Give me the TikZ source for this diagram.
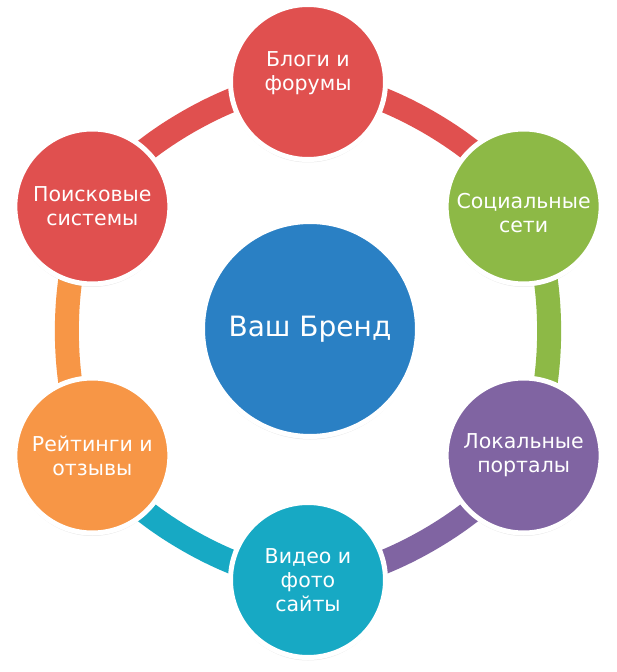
\documentclass[tikz,border=0pt]{standalone}
\usepackage{fontspec}
\setmainfont{DejaVu Sans}
\usetikzlibrary{backgrounds,shadows}
\definecolor{brandblue}{HTML}{2A80C4}
\definecolor{hubred}{HTML}{E0504F}
\definecolor{hubgreen}{HTML}{8DB946}
\definecolor{hubpurple}{HTML}{8064A2}
\definecolor{hubteal}{HTML}{17A9C4}
\definecolor{huborange}{HTML}{F79646}
\begin{document}
\begin{tikzpicture}[x=1pt, y=1pt,
  hubtext/.style={text=white, align=center, inner sep=0pt,
    font=\fontsize{20.5}{24}\selectfont},
  hub/.style={
    hubtext,
    circle, draw=white, line width=5pt,
    fill=#1,
    minimum size=155pt,
    drop shadow={opacity=0.18, shadow xshift=0pt, shadow yshift=-3pt}
  },
  core/.style={hub=brandblue, minimum size=215pt,
    font=\fontsize{28}{34}\selectfont},
  band/.style={draw=#1, line width=24pt}
]
  \useasboundingbox (-308,331) rectangle (309,-341);
  \node[core]            (brand)   at (2,2)      {Ваш Бренд};
  \node[hub=hubred]      (blogs)   at (90:249)   {};
  \node[hub=hubgreen]    (social)  at (30:249)   {};
  \node[hub=hubpurple]   (portals) at (-30:249)  {Локальные\\порталы};
  \node[hub=hubteal]     (video)   at (-90:249)  {Видео и\\фото\\сайты};
  \node[hub=huborange]   (ratings) at (-150:249) {Рейтинги и\\отзывы};
  \node[hub=hubred]      (search)  at (150:249)  {Поисковые\\системы};
  \node[hubtext] (blogs-text)  at ([yshift=9pt]blogs.center)   {Блоги и\\форумы};
  \node[hubtext] (social-text) at ([yshift=-7pt]social.center) {Социальные\\сети};
  % ring behind the circles
  \begin{scope}[on background layer]
    \fill[white] (-308,331) rectangle (309,-341);
    \draw[band=hubred]    (blogs.center)   to[bend left=30, looseness=0.7] (social.center);
    \draw[band=hubgreen]  (social.center)  to[bend left=30, looseness=0.7] (portals.center);
    \draw[band=hubpurple] (portals.center) to[bend left=30, looseness=0.7] (video.center);
    \draw[band=hubteal]   (video.center)   to[bend left=30, looseness=0.7] (ratings.center);
    \draw[band=huborange] (ratings.center) to[bend left=30, looseness=0.7] (search.center);
    \draw[band=hubred]    (search.center)  to[bend left=30, looseness=0.7] (blogs.center);
  \end{scope}
\end{tikzpicture}
\end{document}
